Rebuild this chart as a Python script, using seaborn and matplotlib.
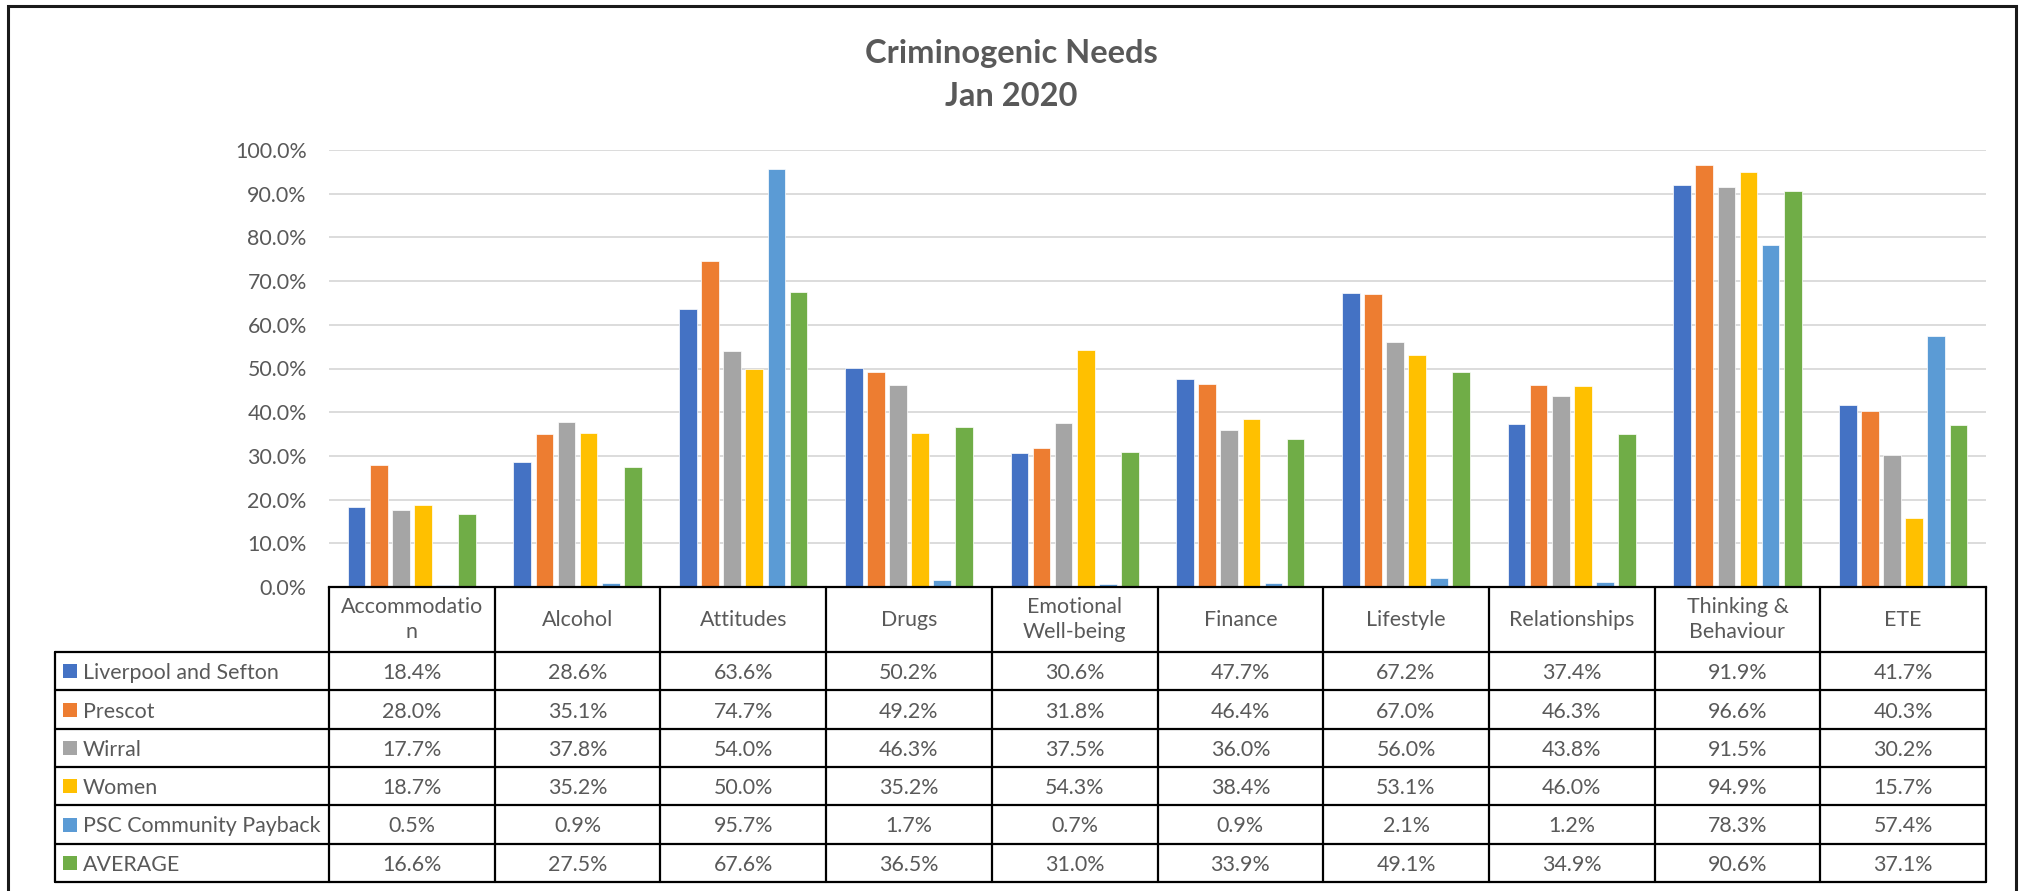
import matplotlib
matplotlib.use("Agg")
import matplotlib.pyplot as plt
import numpy as np
import pandas as pd
import seaborn as sns
from matplotlib.transforms import blended_transform_factory
from matplotlib.patches import Rectangle
from matplotlib.lines import Line2D
from matplotlib.ticker import FuncFormatter, MultipleLocator

# ---- data -------------------------------------------------------------
categories = ["Accommodation", "Alcohol", "Attitudes", "Drugs", "Emotional Well-being",
              "Finance", "Lifestyle", "Relationships", "Thinking & Behaviour", "ETE"]
header_labels = ["Accommodatio\nn", "Alcohol", "Attitudes", "Drugs", "Emotional\nWell-being",
                 "Finance", "Lifestyle", "Relationships", "Thinking &\nBehaviour", "ETE"]
series = ["Liverpool and Sefton", "Prescot", "Wirral", "Women",
          "PSC Community Payback", "AVERAGE"]

liverpool_sefton = [18.4, 28.6, 63.6, 50.2, 30.6, 47.7, 67.2, 37.4, 91.9, 41.7]
prescot          = [28.0, 35.1, 74.7, 49.2, 31.8, 46.4, 67.0, 46.3, 96.6, 40.3]
wirral           = [17.7, 37.8, 54.0, 46.3, 37.5, 36.0, 56.0, 43.8, 91.5, 30.2]
women            = [18.7, 35.2, 50.0, 35.2, 54.3, 38.4, 53.1, 46.0, 94.9, 15.7]
psc_payback      = [0.5, 0.9, 95.7, 1.7, 0.7, 0.9, 2.1, 1.2, 78.3, 57.4]
average          = [16.6, 27.5, 67.6, 36.5, 31.0, 33.9, 49.1, 34.9, 90.6, 37.1]

series_values = [liverpool_sefton, prescot, wirral, women, psc_payback, average]
colors = ["#4472C4", "#ED7D31", "#A5A5A5", "#FFC000", "#5B9BD5", "#70AD47"]

title_lines = ["Criminogenic Needs", "Jan 2020"]

# ---- style ------------------------------------------------------------
sns.set_theme(style="white")
plt.rcParams["font.family"] = ["Lato", "DejaVu Sans"]
TEXT = "#595959"
FS = 15.4
TITLE_FS = 23.5

W, H = 2019, 891
fig = plt.figure(figsize=(W / 100, H / 100), dpi=100)
fig.patch.set_facecolor("white")


def fx(x):
    return x / W


def fy(y):
    return 1 - y / H


# plot area
plot_left, plot_right, plot_top, plot_bottom = 329, 1986, 150, 587
ax = fig.add_axes([fx(plot_left), fy(plot_bottom),
                   (plot_right - plot_left) / W, (plot_bottom - plot_top) / H])

df = pd.DataFrame({
    "need": np.tile(categories, len(series)),
    "series": np.repeat(series, len(categories)),
    "value": np.concatenate(series_values),
})

sns.barplot(data=df, x="need", y="value", hue="series", order=categories,
            hue_order=series, palette=colors, saturation=1, width=0.8, gap=0.2,
            edgecolor="white", linewidth=0.5, legend=False, ax=ax)

ax.set_xlim(-0.5, len(categories) - 0.5)
ax.set_ylim(0, 100)
ax.yaxis.set_major_locator(MultipleLocator(10))
ax.yaxis.set_major_formatter(FuncFormatter(lambda v, _: f"{v:.1f}%"))
ax.grid(axis="y", color="#d9d9d9", linewidth=1.3)
ax.set_axisbelow(True)
for s in ["top", "right", "left"]:
    ax.spines[s].set_visible(False)
ax.spines["bottom"].set_color("black")
ax.spines["bottom"].set_linewidth(1.6)
ax.set_xticks([])
ax.set_xlabel("")
ax.set_ylabel("")
ax.tick_params(axis="y", length=0, pad=16, labelsize=FS, labelcolor=TEXT)

# ---- data table under the axis ---------------------------------------
trans = blended_transform_factory(ax.transData, fig.transFigure)
header_top, header_bottom = 587, 652
row_h = (882 - 652) / 6
row_edges = [header_bottom + i * row_h for i in range(7)]
legend_left = 55
LW = 1.6

for i in range(len(categories) + 1):
    fig.add_artist(Line2D([i - 0.5, i - 0.5], [fy(header_top), fy(row_edges[-1])],
                          transform=trans, color="black", lw=LW))
fig.add_artist(Line2D([fx(legend_left)] * 2, [fy(row_edges[0]), fy(row_edges[-1])],
                      transform=fig.transFigure, color="black", lw=LW))
for y in row_edges:
    fig.add_artist(Line2D([fx(legend_left), fx(plot_right)], [fy(y), fy(y)],
                          transform=fig.transFigure, color="black", lw=LW))

for i, lab in enumerate(header_labels):
    fig.text(i, fy((header_top + header_bottom) / 2), lab, transform=trans,
             ha="center", va="center", fontsize=FS, color=TEXT, linespacing=1.3)

for r, (name, vals, col) in enumerate(zip(series, series_values, colors)):
    yc = (row_edges[r] + row_edges[r + 1]) / 2
    fig.add_artist(Rectangle((fx(63), fy(yc + 7)), 14 / W, 14 / H,
                             transform=fig.transFigure, color=col, lw=0))
    fig.text(fx(83), fy(yc), name, ha="left", va="center_baseline",
             fontsize=FS, color=TEXT)
    for i, v in enumerate(vals):
        fig.text(i, fy(yc), f"{v:.1f}%", transform=trans, ha="center",
                 va="center_baseline", fontsize=FS, color=TEXT)

# ---- title and frame ---------------------------------------------------
fig.text(fx(1011), fy(53), title_lines[0], ha="center", va="center",
         fontsize=TITLE_FS, fontweight="bold", color=TEXT)
fig.text(fx(1011), fy(97), title_lines[1], ha="center", va="center",
         fontsize=TITLE_FS, fontweight="bold", color=TEXT)

fig.add_artist(Rectangle((fx(8), fy(905)), (2016 - 8) / W, (905 - 6) / H,
                         transform=fig.transFigure, fill=False,
                         edgecolor="#1a1a1a", lw=2.2))

fig.savefig("out.png", dpi=100)
